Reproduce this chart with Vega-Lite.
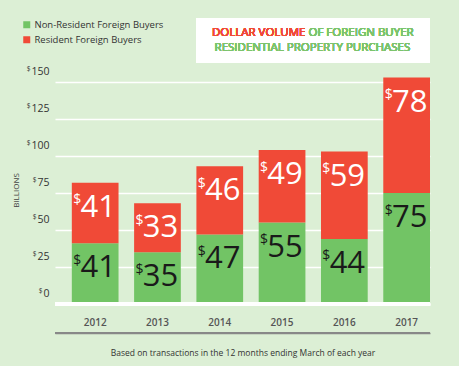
{
  "$schema": "https://vega.github.io/schema/vega-lite/v6.json",
  "autosize": {"type": "none"},
  "width": 375,
  "height": 333,
  "padding": {"left": 55, "top": 8, "right": 29, "bottom": 25},
  "background": "#dcefd5",
  "config": {
    "view": {"stroke": null},
    "font": "Open Sans",
    "axisY": {"title": null, "domain": false, "ticks": false, "grid": false, "labelExpr": "'$'", "labelFontSize": 6.5, "labelColor": "#333333", "labelOffset": -13.5}
  },
  "data": {
    "values": [
      {"year": "2012", "type": "Non-Resident Foreign Buyers", "value": 41},
      {"year": "2012", "type": "Resident Foreign Buyers", "value": 41},
      {"year": "2013", "type": "Non-Resident Foreign Buyers", "value": 35},
      {"year": "2013", "type": "Resident Foreign Buyers", "value": 33},
      {"year": "2014", "type": "Non-Resident Foreign Buyers", "value": 47},
      {"year": "2014", "type": "Resident Foreign Buyers", "value": 46},
      {"year": "2015", "type": "Non-Resident Foreign Buyers", "value": 55},
      {"year": "2015", "type": "Resident Foreign Buyers", "value": 49},
      {"year": "2016", "type": "Non-Resident Foreign Buyers", "value": 44},
      {"year": "2016", "type": "Resident Foreign Buyers", "value": 59},
      {"year": "2017", "type": "Non-Resident Foreign Buyers", "value": 75},
      {"year": "2017", "type": "Resident Foreign Buyers", "value": 78}
    ]
  },
  "resolve": {"scale": {"y": "shared"}, "axis": {"y": "independent"}},
  "layer": [
    {
      "mark": {"type": "bar"},
      "encoding": {
        "x": {
          "field": "year", "type": "nominal",
          "scale": {"paddingInner": 0.25, "paddingOuter": 0.135, "align": 1},
          "axis": {
            "title": "Based on transactions in the 12 months ending March of each year",
            "titleFontSize": 8.5, "titleFontWeight": "normal", "titleColor": "#333333",
            "titleBaseline": "middle", "titleY": 11,
            "domain": false,
            "ticks": false, "labelAngle": 0, "labelBaseline": "middle", "labelPadding": -19,
            "labelFontSize": 10, "labelFontWeight": 600, "labelColor": "#555555",
            "grid": false
          }
        },
        "y": {
          "field": "value", "type": "quantitative", "stack": "zero",
          "scale": {"domain": [-25, 200], "nice": false, "zero": false},
          "axis": {
            "orient": "left",
            "values": [0, 25, 50, 75, 100, 125, 150],
            "labelExpr": "datum.label", "labelOffset": -11, "labelFontSize": 10.5, "labelPadding": 6,
            "title": "BILLIONS", "titleFontSize": 8, "titleFontWeight": "normal", "titleColor": "#444444",
            "titleX": -39, "titleY": 182, "titleAlign": "center", "titleBaseline": "middle", "titleAngle": 270,
            "grid": true, "gridColor": "white", "gridWidth": 1.5
          }
        },
        "color": {
          "field": "type", "type": "nominal",
          "scale": {"domain": ["Non-Resident Foreign Buyers", "Resident Foreign Buyers"], "range": ["#72c465", "#f04a37"]},
          "legend": {
            "title": null, "orient": "none", "legendX": -33, "legendY": 12, "padding": 0,
            "symbolType": "square", "symbolSize": 49, "symbolStrokeWidth": 0, "symbolOpacity": 1,
            "labelFontSize": 9.5, "labelColor": "#333333", "labelOffset": 3, "rowPadding": 4
          }
        },
        "order": {"field": "type", "sort": "ascending"}
      }
    },
    {
      "mark": {"type": "rule", "color": "white", "strokeWidth": 3},
      "encoding": {
        "y": {
          "datum": 0, "type": "quantitative",
          "axis": {
            "orient": "left", "values": [-19.6, 0], "labelPadding": 13,
            "labelExpr": "datum.value < 0 ? '' : '$'",
            "grid": true,
            "gridColor": {"condition": {"test": "datum.value < 0", "value": "#888888"}, "value": "white"},
            "gridWidth": {"condition": {"test": "datum.value < 0", "value": 1.5}, "value": 3}
          }
        }
      }
    },
    {
      "mark": {"type": "rule", "color": "#888888", "strokeWidth": 1.5},
      "encoding": {
        "y": {"datum": -19.6, "type": "quantitative", "axis": {"orient": "left", "values": [100, 125, 150], "labelPadding": 25}}
      }
    },
    {
      "mark": {"type": "rect", "color": "white"},
      "encoding": {
        "x": {"datum": "2014", "type": "nominal", "bandPosition": 0},
        "x2": {"datum": "2017", "bandPosition": 1},
        "y": {"datum": 193.2, "type": "quantitative", "axis": {"orient": "left", "values": [25, 50, 75], "labelPadding": 19}},
        "y2": {"datum": 162.8}
      }
    },
    {
      "mark": {"type": "text", "color": "#f04a37", "fontSize": 11.5, "align": "right", "baseline": "middle", "dx": -1},
      "encoding": {
        "x": {"datum": "2015", "type": "nominal", "bandPosition": 1.023},
        "y": {"datum": 183.1, "type": "quantitative", "axis": null},
        "text": {"value": "DOLLAR VOLUME"}
      }
    },
    {
      "mark": {"type": "text", "color": "#7cc46c", "fontSize": 11.5, "align": "left", "baseline": "middle", "dx": 2},
      "encoding": {
        "x": {"datum": "2015", "type": "nominal", "bandPosition": 1.023},
        "y": {"datum": 183.1, "type": "quantitative", "axis": null},
        "text": {"value": "OF FOREIGN BUYER"}
      }
    },
    {
      "mark": {"type": "text", "color": "#7cc46c", "fontSize": 11.5, "align": "center", "baseline": "middle"},
      "encoding": {
        "x": {"datum": "2015", "type": "nominal", "bandPosition": 1.15},
        "y": {"datum": 173, "type": "quantitative", "axis": null},
        "text": {"value": "RESIDENTIAL PROPERTY PURCHASES"}
      }
    },
    {
      "transform": [
        {"stack": "value", "groupby": ["year"], "sort": [{"field": "type", "order": "ascending"}], "as": ["v0", "v1"]}
      ],
      "mark": {"type": "text", "fontSize": 31, "baseline": "middle", "align": "center", "dx": 3, "dy": 25},
      "encoding": {
        "x": {"field": "year", "type": "nominal"},
        "y": {"field": "v1", "type": "quantitative", "axis": null},
        "text": {"field": "value"},
        "color": {"condition": {"test": "datum.type == 'Resident Foreign Buyers'", "value": "white"}, "value": "#1a1a1a"}
      }
    },
    {
      "transform": [
        {"stack": "value", "groupby": ["year"], "sort": [{"field": "type", "order": "ascending"}], "as": ["v0", "v1"]}
      ],
      "mark": {"type": "text", "fontSize": 14, "baseline": "middle", "align": "center", "dx": -18, "dy": 17.5},
      "encoding": {
        "x": {"field": "year", "type": "nominal"},
        "y": {"field": "v1", "type": "quantitative", "axis": null},
        "text": {"value": "$"},
        "color": {"condition": {"test": "datum.type == 'Resident Foreign Buyers'", "value": "white"}, "value": "#1a1a1a"}
      }
    }
  ]
}
